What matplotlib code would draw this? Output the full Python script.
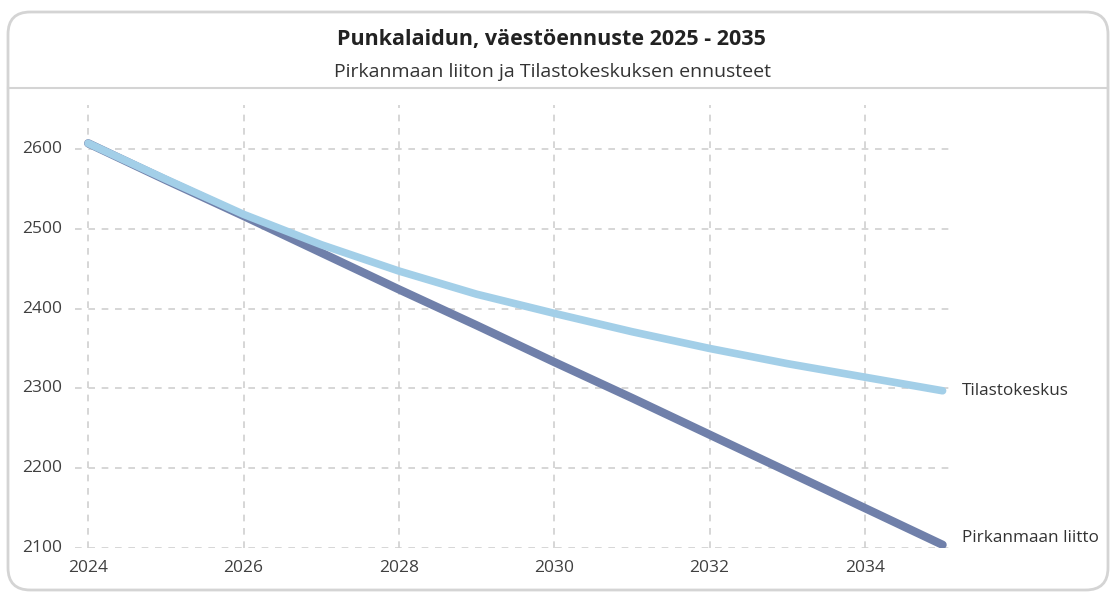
import numpy as np
import matplotlib.pyplot as plt
from matplotlib.patches import FancyBboxPatch
from matplotlib.lines import Line2D

plt.rcParams['font.family'] = ['Open Sans', 'DejaVu Sans']

years = [2024, 2025, 2026, 2027, 2028, 2029, 2030, 2031, 2032, 2033, 2034, 2035]
pirkanmaa = [2607, 2561, 2516, 2470, 2424, 2379, 2333, 2288, 2242, 2196, 2150, 2104]
tilasto = [2607, 2562, 2518, 2480, 2447, 2418, 2394, 2371, 2350, 2331, 2314, 2297]
xticks = [2024, 2026, 2028, 2030, 2032, 2034]
yticks = [2100, 2200, 2300, 2400, 2500, 2600]

fig = plt.figure(figsize=(11.12, 5.92), dpi=100)

# kehys ja otsikkoalue
box = FancyBboxPatch((8 / 1112, 2 / 592), 1100 / 1112, 578 / 592,
                     boxstyle='round,pad=0,rounding_size=0.02',
                     transform=fig.transFigure, fill=False,
                     edgecolor='#d4d4d4', linewidth=2, mutation_aspect=1112 / 592)
fig.patches.append(box)
fig.lines.append(Line2D([8 / 1112, 1108 / 1112], [1 - 88 / 592] * 2,
                        transform=fig.transFigure, color='#d4d4d4', linewidth=1.5))

fig.text(551 / 1112, 1 - 40 / 592, 'Punkalaidun, väestöennuste 2025 - 2035',
         ha='center', va='center', fontsize=15.5, fontweight='bold', color='#222222')
fig.text(552 / 1112, 1 - 72 / 592, 'Pirkanmaan liiton ja Tilastokeskuksen ennusteet',
         ha='center', va='center', fontsize=14, color='#333333')

ax = fig.add_axes([75 / 1112, 1 - 548 / 592, 880 / 1112, 443 / 592])

ax.plot(years, pirkanmaa, color='#7080aa', linewidth=6, solid_capstyle='round',
        solid_joinstyle='round', zorder=3)
ax.plot(years, tilasto, color='#a3cfe8', linewidth=5.5, solid_capstyle='round',
        solid_joinstyle='round', zorder=4)

ax.text(years[-1] + 0.25, tilasto[-1], 'Tilastokeskus', ha='left', va='center',
        fontsize=12.3, color='#333333')
ax.text(years[-1] + 0.25, pirkanmaa[-1] + 8, 'Pirkanmaan liitto', ha='left', va='center',
        fontsize=12.3, color='#333333')

ax.set_xlim(2023.83, 2035.16)
ax.set_ylim(2100, 2655)
ax.set_xticks(xticks)
ax.set_yticks(yticks)
ax.grid(True, color='#cfcfcf', linestyle=(0, (4, 4)), linewidth=1.2)
ax.set_axisbelow(True)
for s in ax.spines.values():
    s.set_visible(False)
ax.tick_params(length=0, labelsize=12.5, labelcolor='#404040')
ax.tick_params(axis='y', pad=9)
ax.tick_params(axis='x', pad=9)
for lab in ax.get_yticklabels():
    lab.set_va('center')

fig.savefig('out.png', dpi=100)
